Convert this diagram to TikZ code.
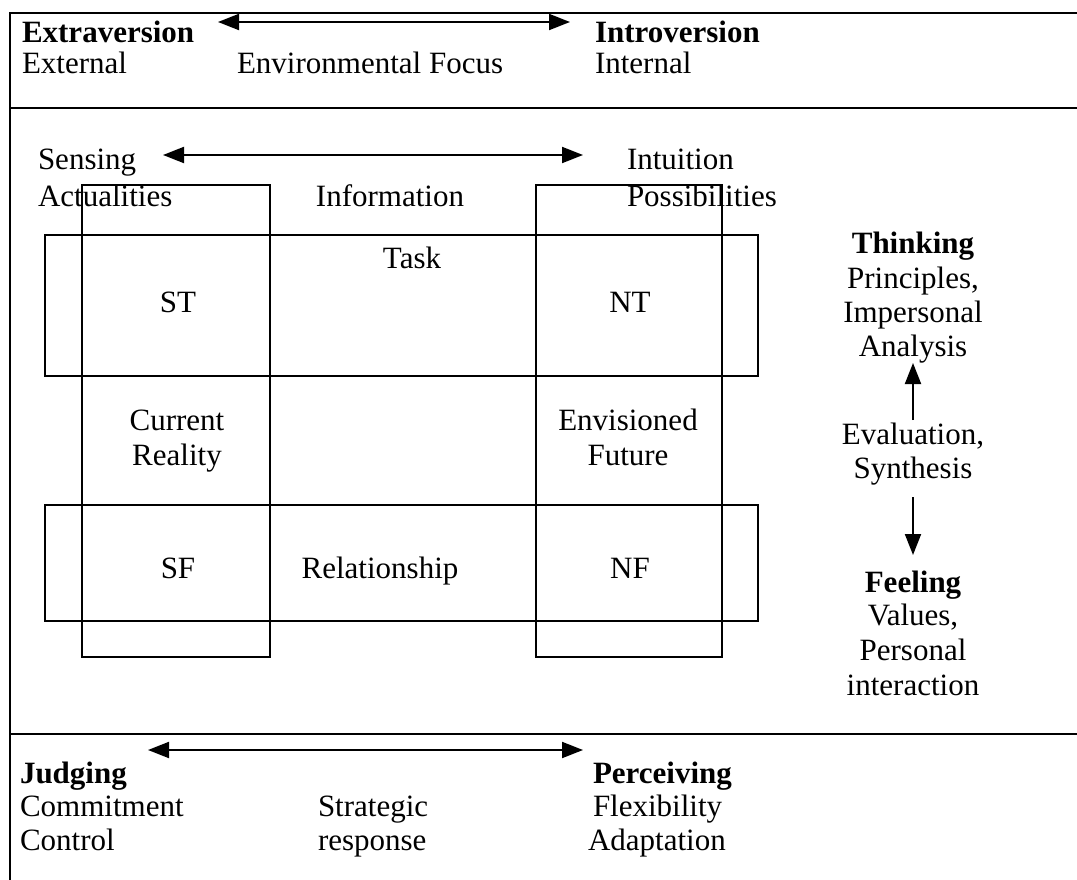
\documentclass[tikz,border=0pt]{standalone}
\usepackage{fontspec}
\setmainfont{Liberation Serif}
\usetikzlibrary{arrows.meta}
\begin{document}
\begin{tikzpicture}[x=1pt,y=-1pt,
  every node/.style={inner sep=0pt,outer sep=0pt,font=\fontsize{31}{34}\selectfont},
  lbl/.style={anchor=base west},
  cl/.style={anchor=base},
  bl/.style={anchor=base west,font=\fontsize{31}{34}\selectfont\bfseries},
  bc/.style={anchor=base,font=\fontsize{31}{34}\selectfont\bfseries},
  frame/.style={line width=1.6pt},
  boxline/.style={line width=1.6pt},
  dbl/.style={line width=2pt,{Triangle[length=21pt,width=16pt]}-{Triangle[length=21pt,width=16pt]}},
  sgl/.style={line width=2pt,-{Triangle[length=21pt,width=16pt]}}]
\useasboundingbox (0,0) rectangle (1077,880);
% frame
\draw[frame] (1077,13) -- (10,13) -- (10,880);
\draw[frame] (10,108) -- (1077,108);
\draw[frame] (10,734) -- (1077,734);
% boxes
\draw[boxline] (45,235) rectangle (758,376);
\draw[boxline] (45,505) rectangle (758,621);
\draw[boxline] (82,185) rectangle (270,657);
\draw[boxline] (536,185) rectangle (722,657);
% top section
\node[bl] (extra) at (22,43) {Extraversion};
\node[lbl] (external) at (22,74) {External};
\node[lbl] (envfocus) at (237,74) {Environmental Focus};
\node[bl] (intro) at (595,43) {Introversion};
\node[lbl] (internal) at (595,74) {Internal};
\coordinate (eil) at (218,22);
\coordinate (eir) at (570,22);
\draw[dbl] (eil) -- (eir);
% middle section
\node[lbl] (sensing) at (38,170) {Sensing};
\node[lbl] (actual) at (38,207) {Actualities};
\node[lbl] (intuition) at (627,170) {Intuition};
\node[lbl] (possib) at (627,207) {Possibilities};
\node[cl] (info) at (390,207) {Information};
\coordinate (snl) at (163,155);
\coordinate (snr) at (583,155);
\draw[dbl] (snl) -- (snr);
\node[cl] (task) at (412,268) {Task};
\node[cl] (st) at (178,312) {ST};
\node[cl] (nt) at (630,312) {NT};
\node[cl] (current) at (177,430) {Current};
\node[cl] (reality) at (177,465) {Reality};
\node[cl] (envis) at (628,430) {Envisioned};
\node[cl] (future) at (628,465) {Future};
\node[cl] (sf) at (178,578) {SF};
\node[cl] (relat) at (380,578) {Relationship};
\node[cl] (nf) at (630,578) {NF};
% right column
\node[bc] (think) at (913,253) {Thinking};
\node[cl] (princ) at (913,288) {Principles,};
\node[cl] (imper) at (913,322) {Impersonal};
\node[cl] (analy) at (913,356) {Analysis};
\node[cl] (evalu) at (913,444) {Evaluation,};
\node[cl] (synth) at (913,478) {Synthesis};
\node[bc] (feel) at (913,592) {Feeling};
\node[cl] (values) at (913,625) {Values,};
\node[cl] (person) at (913,660) {Personal};
\node[cl] (inter) at (913,695) {interaction};
\coordinate (upb) at (913,420);
\coordinate (upt) at (913,363);
\coordinate (dnt) at (913,497);
\coordinate (dnb) at (913,555);
\draw[sgl] (upb) -- (upt);
\draw[sgl] (dnt) -- (dnb);
% bottom section
\node[bl] (judg) at (20,783) {Judging};
\node[lbl] (commit) at (20,816) {Commitment};
\node[lbl] (control) at (20,850) {Control};
\node[lbl] (strat) at (318,816) {Strategic};
\node[lbl] (resp) at (318,850) {response};
\node[bl] (perc) at (593,783) {Perceiving};
\node[lbl] (flex) at (593,816) {Flexibility};
\node[lbl] (adapt) at (588,850) {Adaptation};
\coordinate (jpl) at (148,750);
\coordinate (jpr) at (583,750);
\draw[dbl] (jpl) -- (jpr);
\end{tikzpicture}
\end{document}
